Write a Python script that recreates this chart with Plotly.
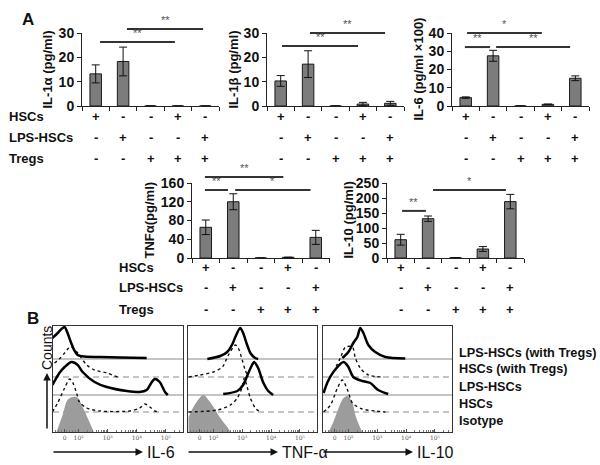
import plotly.graph_objects as go
import numpy as np

W, H = 600, 465
FONT = "Liberation Sans, Arial, sans-serif"

# ---------------- Panel A data ----------------
CONDITIONS = ["HSCs", "LPS-HSCs", "Tregs", "HSCs+Tregs", "LPS-HSCs+Tregs"]
ROW_LABELS = ["HSCs", "LPS-HSCs", "Tregs"]
HSC_SIGNS = ["+", "-", "-", "+", "-"]
LPS_SIGNS = ["-", "+", "-", "-", "+"]
TREG_SIGNS = ["-", "-", "+", "+", "+"]

IL1A = [13.2, 18.3, 0, 0, 0]
IL1A_ERR = [3.7, 5.9, 0, 0, 0]
IL1B = [10.3, 17.2, 0, 0.8, 1.1]
IL1B_ERR = [2.2, 5.5, 0, 0.7, 0.8]
IL6 = [4.6, 27.5, 0, 0.9, 15.2]
IL6_ERR = [0.4, 3.0, 0, 0.2, 1.3]
TNFA = [65.5, 120, 0, 1.4, 44]
TNFA_ERR = [15.5, 17, 0, 0.5, 15]
IL10 = [61, 131, 1, 30, 188]
IL10_ERR = [18, 9, 0, 8, 24]

# significance brackets: (start category, end category, level, label)
SIG_IL1A = [(0.16, 2.89, 26.3, "**"), (1.14, 3.92, 31.6, "**")]
SIG_IL1B = [(0.05, 2.82, 24.7, "**"), (1.07, 3.81, 30.0, "**")]
SIG_IL6 = [(0.05, 2.78, 40.0, "*"), (-0.03, 0.89, 32.3, "**"), (1.11, 3.81, 32.3, "**")]
SIG_TNFA = [(-0.03, 0.81, 145, "**"), (-0.03, 2.82, 173, "**"), (1.07, 3.81, 145, "*")]
SIG_IL10 = [(0.05, 0.92, 157, "**"), (1.18, 3.84, 227, "*")]

# ---------------- Panel B data (flow histograms) ----------------
# x in log-decade units (2 = 10^2), h = relative counts
IL6_ISO_X = [1.24, 1.45, 1.62, 1.79, 1.97, 2.14, 2.31, 2.45, 2.52]
IL6_ISO_H = [0, 17, 32, 35, 34, 25, 14, 5, 0]
IL6_HSC_X = [1.10, 1.28, 1.52, 1.69, 1.79, 1.93, 2.03, 2.28, 2.72, 3.76, 4.10, 4.28, 4.45, 4.62, 4.79]
IL6_HSC_H = [0, 9, 24, 33, 30, 19, 10, 4, 1, 1, 4, 8, 5, 1, 0]
IL6_LPS_X = [1.10, 1.34, 1.52, 1.76, 1.97, 2.14, 2.55, 2.97, 3.66, 4.10, 4.34, 4.52, 4.62, 4.79, 4.97, 5.07]
IL6_LPS_H = [10, 22, 28, 33, 30, 23, 13, 8, 4, 3, 5, 13, 16, 13, 3, 0]
IL6_HSCT_X = [1.17, 1.34, 1.52, 1.66, 1.76, 1.97, 2.28, 2.55, 2.97, 3.34]
IL6_HSCT_H = [14, 18, 24, 29, 30, 24, 12, 7, 4, 0]
IL6_LPST_X = [1.10, 1.28, 1.41, 1.52, 1.62, 1.72, 1.83, 1.97, 2.21, 2.72, 3.41, 4.34]
IL6_LPST_H = [21, 26, 30, 32, 26, 18, 10, 4, 2.5, 2, 1.5, 1]

TNF_ISO_X = [1.14, 1.31, 1.55, 1.66, 1.83, 2.00, 2.17, 2.34, 2.48, 2.59]
TNF_ISO_H = [15, 25, 35, 37, 32, 25, 17, 10, 5, 0]
TNF_HSC_X = [1.14, 2.14, 2.59, 2.83, 3.00, 3.07, 3.17, 3.28, 3.45, 3.62]
TNF_HSC_H = [0, 2, 7, 14, 25, 34, 25, 14, 4, 0]
TNF_LPS_X = [2.34, 2.83, 3.03, 3.21, 3.34, 3.41, 3.55, 3.72, 3.90, 4.07]
TNF_LPS_H = [1, 4, 10, 22, 30, 33, 27, 13, 4, 0]
TNF_HSCT_X = [1.14, 1.55, 2.00, 2.31, 2.52, 2.76, 2.86, 3.00, 3.10, 3.21]
TNF_HSCT_H = [0, 2, 5, 10, 22, 32, 29, 17, 7, 0]
TNF_LPST_X = [1.79, 2.24, 2.48, 2.66, 2.76, 2.93, 3.03, 3.17, 3.28, 3.45, 3.55]
TNF_LPST_H = [0, 3, 7, 15, 22, 31, 26, 14, 6, 1, 0]

IL10_ISO_X = [1.31, 1.48, 1.66, 1.83, 1.97, 2.14, 2.24, 2.34, 2.48]
IL10_ISO_H = [0, 10, 24, 34, 36, 29, 17, 9, 0]
IL10_HSC_X = [1.14, 1.38, 1.62, 1.79, 1.97, 2.14, 2.48, 2.93, 3.28]
IL10_HSC_H = [0, 7, 24, 32, 22, 9, 3, 1, 0]
IL10_LPS_X = [1.14, 1.28, 1.48, 1.83, 2.00, 2.17, 2.48, 2.76, 3.03, 3.38]
IL10_LPS_H = [2, 13, 23, 33, 28, 18, 14, 12, 5, 1]
IL10_HSCT_X = [1.48, 1.72, 1.90, 2.14, 2.24, 2.41, 2.69, 3.17]
IL10_HSCT_H = [5, 19, 30, 30, 19, 9, 2, 0]
IL10_LPST_X = [1.79, 2.00, 2.17, 2.31, 2.41, 2.52, 2.69, 2.93, 3.28, 3.97]
IL10_LPST_H = [1, 7, 16, 22, 31, 26, 14, 7, 2, 0.5]

LEGEND_LABELS = ["LPS-HSCs (with Tregs)", "HSCs (with Tregs)", "LPS-HSCs", "HSCs", "Isotype"]
HIST_TICKVALS = [1.52, 2, 3, 4, 5]
HIST_TICKTEXT = ["0", "10²", "10³", "10⁴", "10⁵"]
MARKERS = ["IL-6", "TNF-α", "IL-10"]

# ---------------- layout helpers ----------------
def fx(px):
    return px / W


def fy(py):
    return 1 - py / H


fig = go.Figure()
layout = dict(width=W, height=H, margin=dict(l=0, r=0, t=0, b=0, pad=0, autoexpand=False),
              paper_bgcolor="white", plot_bgcolor="white", showlegend=False,
              font=dict(family=FONT, color="#111"))
annotations = []
shapes = []

charts = [
    dict(vals=IL1A, err=IL1A_ERR, sig=SIG_IL1A, x0=82, x1=219, yb=106, yt=33, ymax=30, dtick=10,
         title="IL-1α (pg/ml)", tx=47),
    dict(vals=IL1B, err=IL1B_ERR, sig=SIG_IL1B, x0=267, x1=404, yb=106, yt=33, ymax=30, dtick=10,
         title="IL-1β (pg/ml)", tx=233),
    dict(vals=IL6, err=IL6_ERR, sig=SIG_IL6, x0=452, x1=589, yb=106, yt=33, ymax=40, dtick=10,
         title="IL-6 (pg/ml ×100)", tx=418),
    dict(vals=TNFA, err=TNFA_ERR, sig=SIG_TNFA, x0=192, x1=329.5, yb=258, yt=183, ymax=160, dtick=40,
         title="TNFα(pg/ml)", tx=149),
    dict(vals=IL10, err=IL10_ERR, sig=SIG_IL10, x0=387, x1=524, yb=258, yt=183, ymax=250, dtick=50,
         title="IL-10 (pg/ml)", tx=348),
]

BOLD13 = dict(family=FONT, size=13, color="#111", weight="bold")

for i, c in enumerate(charts, start=1):
    xa = "x" if i == 1 else f"x{i}"
    ya = "y" if i == 1 else f"y{i}"
    xkey = "xaxis" if i == 1 else f"xaxis{i}"
    ykey = "yaxis" if i == 1 else f"yaxis{i}"
    fig.add_trace(go.Bar(
        x=list(range(len(CONDITIONS))), y=c["vals"], width=0.42,
        marker=dict(color="#7c7c7c", line=dict(color="#1a1a1a", width=1)),
        error_y=dict(type="data", array=c["err"], color="#111", thickness=1, width=4),
        xaxis=xa, yaxis=ya, hoverinfo="skip"))
    layout[xkey] = dict(domain=[fx(c["x0"]), fx(c["x1"])], anchor=ya, range=[-0.5, 4.5],
                        tickvals=[-0.5, 0.5, 1.5, 2.5, 3.5, 4.5], showticklabels=False,
                        ticks="outside", ticklen=4, tickcolor="#222", showline=True, automargin=False,
                        linecolor="#222", linewidth=1, showgrid=False, zeroline=False)
    layout[ykey] = dict(domain=[fy(c["yb"]), fy(c["yt"])], anchor=xa, range=[0, c["ymax"]],
                        dtick=c["dtick"], ticks="outside", ticklen=4, tickcolor="#222", automargin=False,
                        showline=True, linecolor="#222", linewidth=1, showgrid=False,
                        zeroline=False, tickfont=dict(family=FONT, size=14, color="#111", weight="bold"))
    annotations.append(dict(x=fx(c["tx"]), y=fy((c["yb"] + c["yt"]) / 2), xref="paper", yref="paper",
                            text=c["title"], textangle=-90, showarrow=False,
                            xanchor="center", yanchor="middle", font=BOLD13))
    wpx = (c["x1"] - c["x0"]) / 5.0

    def cx(cat, c=c, wpx=wpx):
        return c["x0"] + (cat + 0.5) * wpx

    def cy(v, c=c):
        return c["yb"] - v / c["ymax"] * (c["yb"] - c["yt"])

    for (a, b, lev, lab) in c["sig"]:
        shapes.append(dict(type="line", xref="paper", yref="paper",
                           x0=fx(cx(a)), x1=fx(cx(b)), y0=fy(cy(lev)), y1=fy(cy(lev)),
                           line=dict(color="#333", width=2)))
        annotations.append(dict(x=fx((cx(a) + cx(b)) / 2), y=fy(cy(lev) - 1), xref="paper", yref="paper",
                                text=lab, showarrow=False, xanchor="center", yanchor="bottom",
                                font=dict(family=FONT, size=11, color="#555")))
    rows_y = [116, 137, 158] if i <= 3 else [267, 287, 309]
    for ry, signs in zip(rows_y, [HSC_SIGNS, LPS_SIGNS, TREG_SIGNS]):
        for k, s in enumerate(signs):
            annotations.append(dict(x=fx(cx(k)), y=fy(ry), xref="paper", yref="paper", text=s,
                                    showarrow=False, xanchor="center", yanchor="middle", font=BOLD13))

for lx, rows_y in [(7, [116, 137, 158]), (117, [267, 287, 309])]:
    for lab, ry in zip(ROW_LABELS, rows_y):
        annotations.append(dict(x=fx(lx), y=fy(ry), xref="paper", yref="paper", text=lab,
                                showarrow=False, xanchor="left", yanchor="middle", font=BOLD13))

annotations.append(dict(x=fx(28), y=fy(20), xref="paper", yref="paper", text="A", showarrow=False,
                        xanchor="center", yanchor="middle",
                        font=dict(family=FONT, size=17, color="#111", weight="bold")))
annotations.append(dict(x=fx(33), y=fy(318), xref="paper", yref="paper", text="B", showarrow=False,
                        xanchor="center", yanchor="middle",
                        font=dict(family=FONT, size=17, color="#111", weight="bold")))

# ---------------- Panel B ----------------
boxes = [
    dict(x0=53, x1=183, curves=[(IL6_ISO_X, IL6_ISO_H), (IL6_HSC_X, IL6_HSC_H), (IL6_LPS_X, IL6_LPS_H),
                                (IL6_HSCT_X, IL6_HSCT_H), (IL6_LPST_X, IL6_LPST_H)]),
    dict(x0=188, x1=317, curves=[(TNF_ISO_X, TNF_ISO_H), (TNF_HSC_X, TNF_HSC_H), (TNF_LPS_X, TNF_LPS_H),
                                 (TNF_HSCT_X, TNF_HSCT_H), (TNF_LPST_X, TNF_LPST_H)]),
    dict(x0=323, x1=452, curves=[(IL10_ISO_X, IL10_ISO_H), (IL10_HSC_X, IL10_HSC_H), (IL10_LPS_X, IL10_LPS_H),
                                 (IL10_HSCT_X, IL10_HSCT_H), (IL10_LPST_X, IL10_LPST_H)]),
]
OFFSETS = [0, 20, 37, 55, 73]
HB_TOP, HB_BOT = 326, 432
minor_vals = [1.2, 1.3, 1.4, 1.6, 1.7, 1.8, 1.9]
for n in range(2, 6):
    for k in range(2, 10):
        v = np.log10(k) + n
        if v < 5.58:
            minor_vals.append(float(v))

for j, b in enumerate(boxes):
    idx = 6 + j
    xa, ya = f"x{idx}", f"y{idx}"
    layout[f"xaxis{idx}"] = dict(domain=[fx(b["x0"]), fx(b["x1"])], anchor=ya, range=[1.12, 5.59],
                                 showline=True, mirror=True, linecolor="#333", linewidth=1, automargin=False,
                                 ticks="inside", ticklen=3, tickcolor="#555",
                                 tickvals=HIST_TICKVALS, ticktext=HIST_TICKTEXT,
                                 tickfont=dict(family="DejaVu Serif, serif", size=6, color="#555"),
                                 minor=dict(tickvals=minor_vals, ticks="inside", ticklen=2, tickcolor="#777"),
                                 showgrid=False, zeroline=False)
    layout[f"yaxis{idx}"] = dict(domain=[fy(HB_BOT), fy(HB_TOP)], anchor=xa, range=[0, 106],
                                 showline=True, mirror=True, linecolor="#333", linewidth=1, automargin=False,
                                 ticks="", showticklabels=False, showgrid=False, zeroline=False)
    for off, dash in [(20, "6px,4px"), (37, "solid"), (55, "6px,4px"), (73, "solid")]:
        shapes.append(dict(type="line", xref=f"{xa} domain", yref=ya, x0=0, x1=1, y0=off, y1=off,
                           layer="below", line=dict(color="#8a8a8a", width=1, dash=dash)))
    styles = [None,
              dict(color="#111", width=1.4, dash="dot"),
              dict(color="#000", width=2.5),
              dict(color="#111", width=1.4, dash="dot"),
              dict(color="#000", width=2.5)]
    for (cxs, chs), off, st in zip(b["curves"], OFFSETS, styles):
        if st is None:
            fig.add_trace(go.Scatter(x=cxs, y=chs, mode="lines", line=dict(width=0, shape="spline"),
                                     fill="tozeroy", fillcolor="#9c9c9c", xaxis=xa, yaxis=ya,
                                     hoverinfo="skip"))
        else:
            fig.add_trace(go.Scatter(x=cxs, y=[h + off for h in chs], mode="lines",
                                     line=dict(shape="spline", smoothing=0.8, **st),
                                     xaxis=xa, yaxis=ya, hoverinfo="skip"))
    annotations.append(dict(x=fx(b["x0"] + 90), y=fy(452), xref="paper", yref="paper", text="",
                            showarrow=True, ax=-91, ay=0, arrowhead=2, arrowsize=1, arrowwidth=1.5,
                            arrowcolor="#111"))
    annotations.append(dict(x=fx(b["x0"] + 92), y=fy(452), xref="paper", yref="paper", text=MARKERS[j],
                            showarrow=False, xanchor="left", yanchor="middle",
                            font=dict(family=FONT, size=16, color="#111")))

annotations.append(dict(x=fx(47), y=fy(373), xref="paper", yref="paper", text="", showarrow=True,
                        ax=0, ay=57, arrowhead=2, arrowsize=1, arrowwidth=1.5, arrowcolor="#111"))
annotations.append(dict(x=fx(47), y=fy(348), xref="paper", yref="paper", text="Counts", textangle=-90,
                        showarrow=False, xanchor="center", yanchor="middle",
                        font=dict(family=FONT, size=14, color="#111")))

for lab, ly in zip(LEGEND_LABELS, [353, 369, 387, 404, 421]):
    annotations.append(dict(x=fx(457), y=fy(ly), xref="paper", yref="paper", text=lab, showarrow=False,
                            xanchor="left", yanchor="middle",
                            font=dict(family=FONT, size=12.7, color="#111", weight="bold")))

layout["annotations"] = annotations
layout["shapes"] = shapes
fig.update_layout(**layout)
fig.write_html("out.html", config={"displayModeBar": False},
               post_script="document.body.style.margin='0';")
